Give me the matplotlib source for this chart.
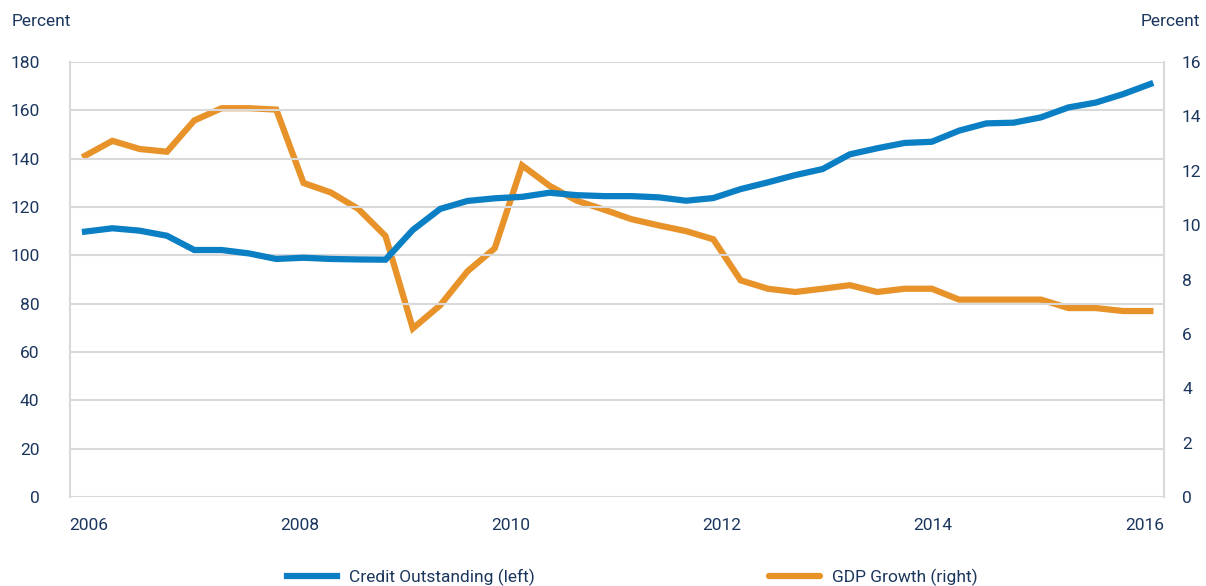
import numpy as np
import matplotlib.pyplot as plt

plt.rcParams['font.family'] = ['Liberation Sans Narrow', 'Roboto', 'DejaVu Sans']

# quarterly observations, 2006 to 2015
credit = [109.8, 111.2, 110.2, 108.1, 102.2, 102.2, 100.8, 98.5, 99.0, 98.5,
          98.3, 98.2, 110.5, 119.2, 122.5, 123.6, 124.2, 125.9, 124.9, 124.5,
          124.5, 124.0, 122.6, 123.7, 127.4, 130.2, 133.2, 135.7, 141.8, 144.3,
          146.5, 147.0, 151.6, 154.6, 154.9, 157.1, 161.2, 163.2, 166.7, 170.9]
gdp = [12.55, 13.1, 12.8, 12.7, 13.85, 14.3, 14.3, 14.25, 11.55, 11.2,
       10.6, 9.6, 6.2, 7.05, 8.3, 9.15, 12.2, 11.45, 10.9, 10.57,
       10.22, 9.99, 9.78, 9.48, 7.97, 7.66, 7.54, 7.66, 7.79, 7.54,
       7.66, 7.66, 7.26, 7.26, 7.26, 7.26, 6.95, 6.95, 6.84, 6.84]
year_labels = ['2006', '2008', '2010', '2012', '2014', '2016']

blue = '#0a7fc4'
orange = '#e8922a'
txt = '#1b365d'
grid = '#d9d9d9'

x = np.arange(len(credit))

fig = plt.figure(figsize=(12.06, 5.86), dpi=100)
ax = fig.add_axes([70 / 1206, 1 - 497 / 586, 1094 / 1206, 435 / 586])
ax2 = ax.twinx()

l1, = ax.plot(x, credit, color=blue, lw=4.5, solid_joinstyle='miter',
              label='Credit Outstanding (left)', zorder=3)
l2, = ax2.plot(x, gdp, color=orange, lw=4.5, solid_joinstyle='miter',
               label='GDP Growth (right)', zorder=3)

ax.set_ylim(0, 180)
ax.set_yticks(range(0, 181, 20))
ax2.set_ylim(0, 16)
ax2.set_yticks(range(0, 17, 2))
ax.set_xlim(-0.55, 39.5)
ax.set_xticks(np.linspace(0.13, 38.78, 6))
ax.set_xticklabels(year_labels)

ax.grid(axis='y', color=grid, lw=1.5)
ax.set_axisbelow(True)
ax.set_zorder(ax2.get_zorder() + 1)
ax.patch.set_visible(False)

for a in (ax, ax2):
    for s in a.spines.values():
        s.set_visible(False)
    a.tick_params(length=0, labelsize=12.5, labelcolor=txt)
ax.spines['left'].set_visible(True)
ax.spines['left'].set_color(grid)
ax.spines['left'].set_linewidth(1.5)
ax2.spines['right'].set_visible(True)
ax2.spines['right'].set_color(grid)
ax2.spines['right'].set_linewidth(1.5)
ax.tick_params(axis='y', pad=22)
ax.tick_params(axis='x', pad=15)
ax2.tick_params(axis='y', pad=13)

fig.text(12 / 1206, 1 - 22 / 586, 'Percent', color=txt, fontsize=12.5,
         ha='left', va='center')
fig.text(1200 / 1206, 1 - 22 / 586, 'Percent', color=txt, fontsize=12.5,
         ha='right', va='center')

leg = fig.legend([l1, l2], [l1.get_label(), l2.get_label()], ncol=2,
                 loc='center', bbox_to_anchor=(632 / 1206, 1 - 577 / 586),
                 frameon=False, fontsize=12.5, labelcolor=txt,
                 handlelength=2.9, handletextpad=0.7, columnspacing=13.5)
leg.get_lines()[1].set_solid_capstyle('round')

fig.savefig('out.png', dpi=100)
